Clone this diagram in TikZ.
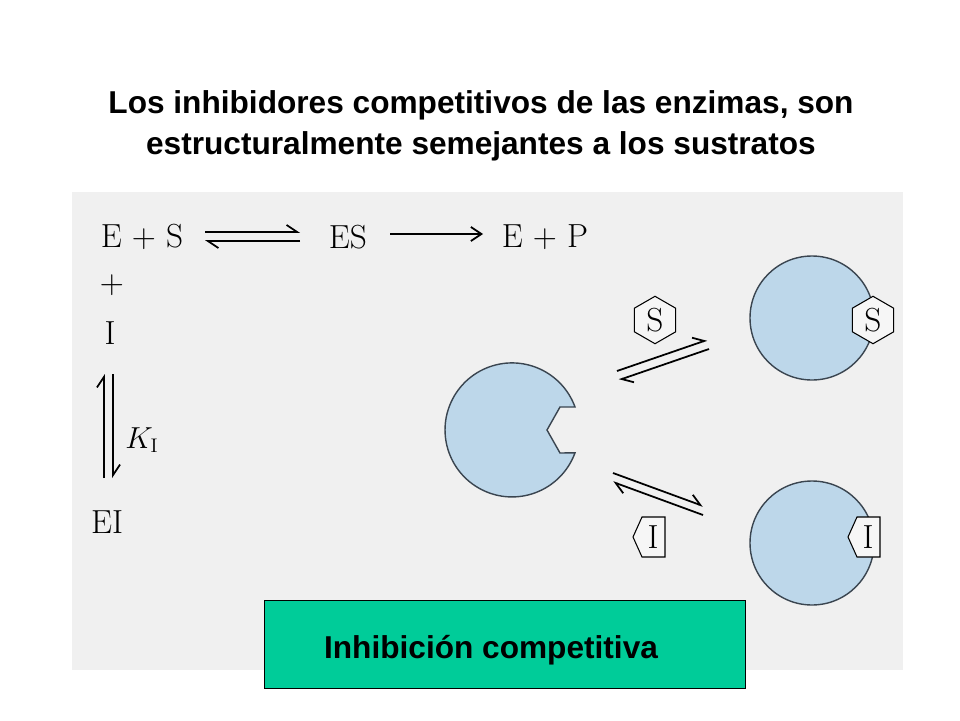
\documentclass[tikz,border=0pt]{standalone}
\usepackage{fontspec}
\newfontfamily\arialfont{Liberation Sans}
\usetikzlibrary{positioning}
\usetikzlibrary{arrows.meta}
\usetikzlibrary{shapes.geometric}
\definecolor{panelgray}{HTML}{F0F0F0}
\definecolor{enzblue}{HTML}{BDD7EA}
\definecolor{enzline}{HTML}{3A4550}
\definecolor{boxgreen}{HTML}{00CC99}
\tikzset{
  chem/.style={font=\fontsize{19}{22}\selectfont, inner sep=1pt},
  enzyme/.style={draw=enzline, fill=enzblue, line width=0.8pt},
  ligand/.style={draw=black, fill=panelgray!60!white, line width=0.6pt},
  upbarb/.style={-{Straight Barb[left,length=6pt,width=8pt]}, line width=1pt}
}
\begin{document}
\begin{tikzpicture}[x=0.02cm,y=-0.02cm]
\useasboundingbox (0,0) rectangle (960,720);
\fill[white] (0,0) rectangle (960,720);

\node[font=\arialfont\bfseries\fontsize{18}{23}\selectfont, align=center] (title) at (481,126)
  {Los inhibidores competitivos de las enzimas, son\\estructuralmente semejantes a los sustratos};

\fill[panelgray] (72,192) rectangle (903,670);

% reaction scheme
\node[chem] (es0) at (142,237) {E + S};
\node[chem] (es) at (348,237) {ES};
\node[chem] (ep) at (545,237) {E + P};
\node[chem] (plus) at (112,285) {+};
\node[chem] (inh) at (110,333) {I};
\node[chem] (ei) at (107,522) {EI};
\node[chem, font=\fontsize{16}{18}\selectfont] (ki) at (142,440) {$K_{\mathrm{I}}$};

\draw[upbarb] (205,232) -- (300,232);
\draw[upbarb] (300,241) -- (205,241);
\draw[-{Straight Barb[length=6pt,width=8pt]}, line width=1pt] (390,234) -- (483,234);
\draw[upbarb] (104,478) -- (104,374);
\draw[upbarb] (113,374) -- (113,478);

% free enzyme
\draw[enzyme] (575,407) arc[start angle=-20,end angle=-340,radius=67] -- (560,453) -- (547,430) -- (560,407) -- cycle;

% complexes
\draw[enzyme] (812,318) circle[radius=62];
\draw[enzyme] (812,543) circle[radius=62];
\node[chem, ligand, regular polygon, regular polygon sides=6, shape border rotate=90, minimum size=27pt, inner sep=0pt] (sbound) at (873,320) {S};
\node[chem, ligand, regular polygon, regular polygon sides=6, shape border rotate=90, minimum size=27pt, inner sep=0pt] (sfree) at (655,320) {S};
\draw[ligand] (848,537) -- (857,517) -- (880,517) -- (880,557) -- (857,557) -- cycle;
\node[chem] (ibound) at (868,537) {I};
\draw[ligand] (633,537) -- (642,517) -- (665,517) -- (665,557) -- (642,557) -- cycle;
\node[chem] (ifree) at (653,537) {I};

% binding equilibria
\draw[upbarb] (617,371) -- (707,340);
\draw[upbarb] (709,349) -- (619,380);
\draw[upbarb] (613,473) -- (703,506);
\draw[upbarb] (703,515) -- (613,482);

\node[draw=black, fill=boxgreen, minimum width=481*0.02cm, minimum height=88*0.02cm, anchor=north west] (label) at (264,600) {};
\node[font=\arialfont\bfseries\fontsize{18}{21}\selectfont] (labeltext) at (491,650) {Inhibición competitiva};
\end{tikzpicture}
\end{document}
